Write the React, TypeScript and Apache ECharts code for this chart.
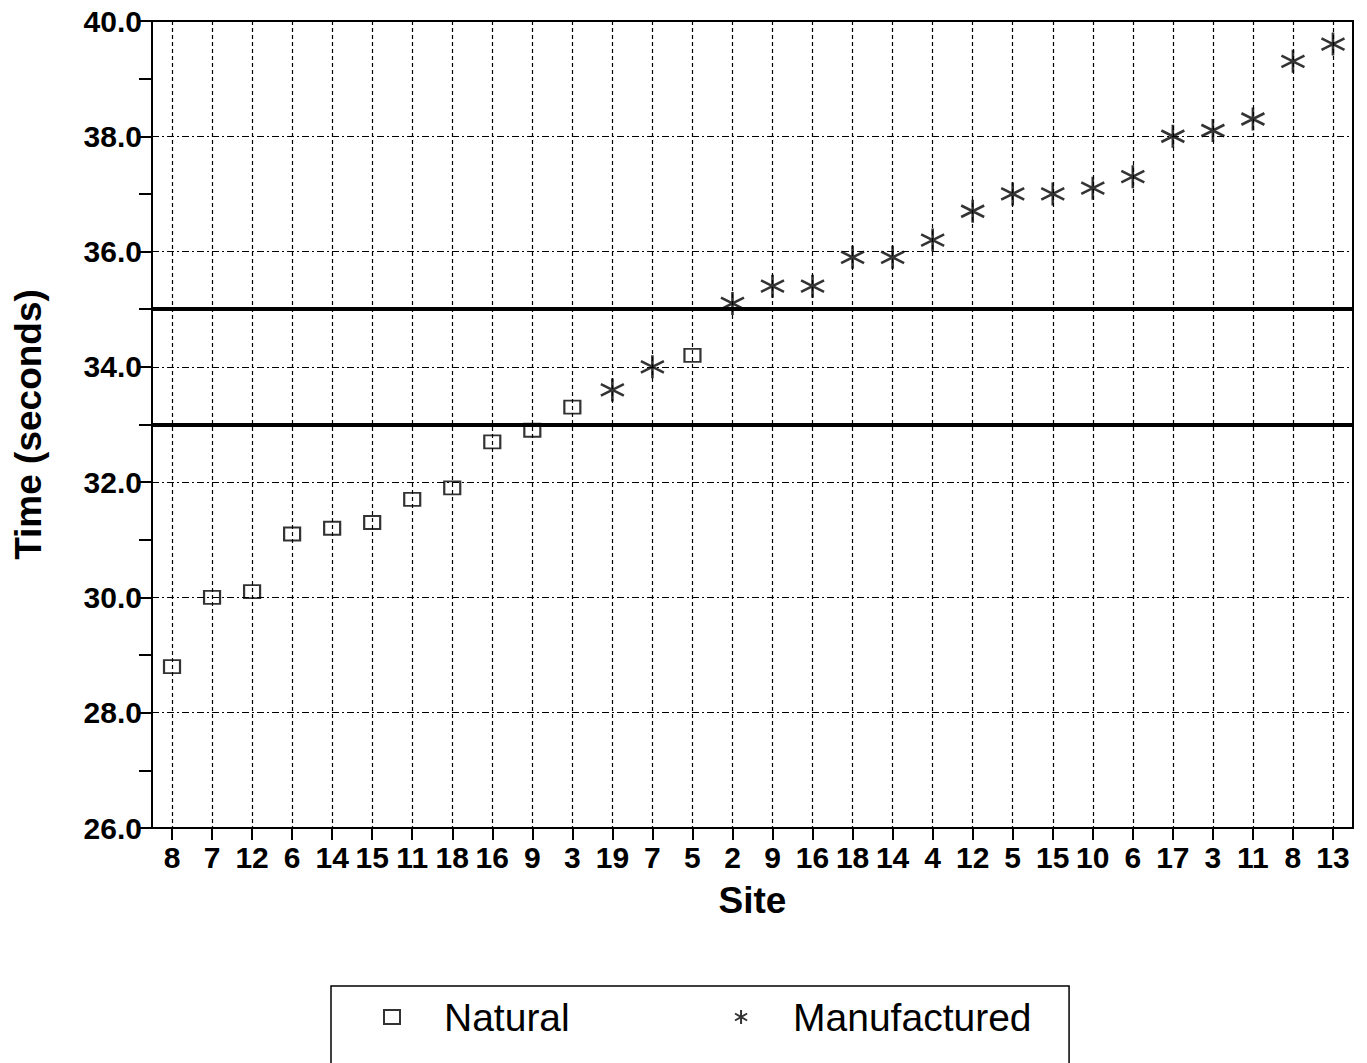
import React, { useEffect, useRef } from "react";
import * as echarts from "echarts";

const siteLabels = ["8", "7", "12", "6", "14", "15", "11", "18", "16", "9", "3", "19", "7", "5", "2", "9", "16", "18", "14", "4", "12", "5", "15", "10", "6", "17", "3", "11", "8", "13"];
const times = [28.8, 30.0, 30.1, 31.1, 31.2, 31.3, 31.7, 31.9, 32.7, 32.9, 33.3, 33.6, 34.0, 34.2, 35.1, 35.4, 35.4, 35.9, 35.9, 36.2, 36.7, 37.0, 37.0, 37.1, 37.3, 38.0, 38.1, 38.3, 39.3, 39.6];
const sourceTypes = ["N", "N", "N", "N", "N", "N", "N", "N", "N", "N", "N", "M", "M", "N", "M", "M", "M", "M", "M", "M", "M", "M", "M", "M", "M", "M", "M", "M", "M", "M"];
const referenceLines = [33, 35];
const yTicks = { min: 26, max: 40, interval: 2 };

const naturalTimes = times.map((t, i) => (sourceTypes[i] === "N" ? t : null));
const manufacturedTimes = times.map((t, i) => (sourceTypes[i] === "M" ? t : null));

const FONT = "'Liberation Sans', Arial, Helvetica, sans-serif";
const STAR = "path://M10,0L10,20M1.34,5L18.66,15M1.34,15L18.66,5";

export default function App() {
  const ref = useRef<HTMLDivElement>(null);
  useEffect(() => {
    if (!ref.current) return;
    const chart = echarts.init(ref.current, null, { renderer: "svg" });
    chart.setOption({
      animation: false,
      backgroundColor: "#fff",
      textStyle: { fontFamily: FONT, color: "#000" },
      grid: {
        left: 152,
        right: 14,
        top: 21,
        bottom: 235,
        show: true,
        borderColor: "#000",
        borderWidth: 2,
        backgroundColor: "transparent",
      },
      legend: {
        left: 331,
        top: 986,
        orient: "horizontal",
        padding: [9, 26, 40, 52],
        itemWidth: 16,
        itemHeight: 14,
        itemGap: 40,
        borderColor: "#000",
        borderWidth: 1.5,
        borderRadius: 0,
        selectedMode: false,
        textStyle: {
          fontFamily: FONT,
          fontSize: 39,
          color: "#000",
          lineHeight: 44,
          padding: [0, 0, 0, 39],
          width: 250,
        },
        data: ["Natural", "Manufactured"],
      },
      xAxis: {
        type: "category",
        data: siteLabels,
        boundaryGap: true,
        name: "Site",
        nameLocation: "middle",
        nameGap: 54,
        nameTextStyle: { fontFamily: FONT, fontSize: 37, fontWeight: "bold", color: "#000" },
        axisLine: { show: true, lineStyle: { color: "#000", width: 2 } },
        axisTick: { show: true, alignWithLabel: true, length: 12, lineStyle: { color: "#000", width: 2 } },
        axisLabel: { interval: 0, margin: 14, fontFamily: FONT, fontSize: 30, fontWeight: "bold", color: "#000" },
        splitLine: {
          show: true,
          alignWithLabel: true,
          interval: 0,
          lineStyle: { color: "#000", width: 1.2, type: [4, 3] },
        },
      },
      yAxis: {
        type: "value",
        min: yTicks.min,
        max: yTicks.max,
        interval: yTicks.interval,
        name: "Time (seconds)",
        nameLocation: "middle",
        nameGap: 105,
        nameTextStyle: { fontFamily: FONT, fontSize: 37, fontWeight: "bold", color: "#000" },
        axisLine: { show: true, lineStyle: { color: "#000", width: 2 } },
        axisTick: { show: true, length: 13, lineStyle: { color: "#000", width: 2 } },
        minorTick: { show: true, splitNumber: 2, length: 13, lineStyle: { color: "#000", width: 2 } },
        axisLabel: {
          margin: 10,
          fontFamily: FONT,
          fontSize: 30,
          fontWeight: "bold",
          color: "#000",
          formatter: (v: number) => v.toFixed(1),
        },
        splitLine: { show: true, lineStyle: { color: "#000", width: 1.2, type: [7, 3, 2, 3] } },
      },
      series: [
        {
          name: "Natural",
          type: "scatter",
          data: naturalTimes,
          symbol: "rect",
          symbolSize: [16, 13],
          itemStyle: { color: "rgba(0,0,0,0)", borderColor: "#000", borderWidth: 2 },
          z: 3,
          markLine: {
            silent: true,
            symbol: "none",
            label: { show: false },
            lineStyle: { color: "#000", width: 4, type: "solid" },
            data: referenceLines.map((v) => ({ yAxis: v })),
          },
        },
        {
          name: "Manufactured",
          type: "scatter",
          data: manufacturedTimes,
          symbol: STAR,
          symbolSize: 23,
          itemStyle: { color: "#000", borderColor: "#000", borderWidth: 2.6 },
          z: 3,
        },
      ],
    });
    return () => chart.dispose();
  }, []);
  return (
    <div
      ref={ref}
      style={{ position: "fixed", left: 0, top: 0, width: 1367, height: 1063, background: "#fff" }}
    />
  );
}
